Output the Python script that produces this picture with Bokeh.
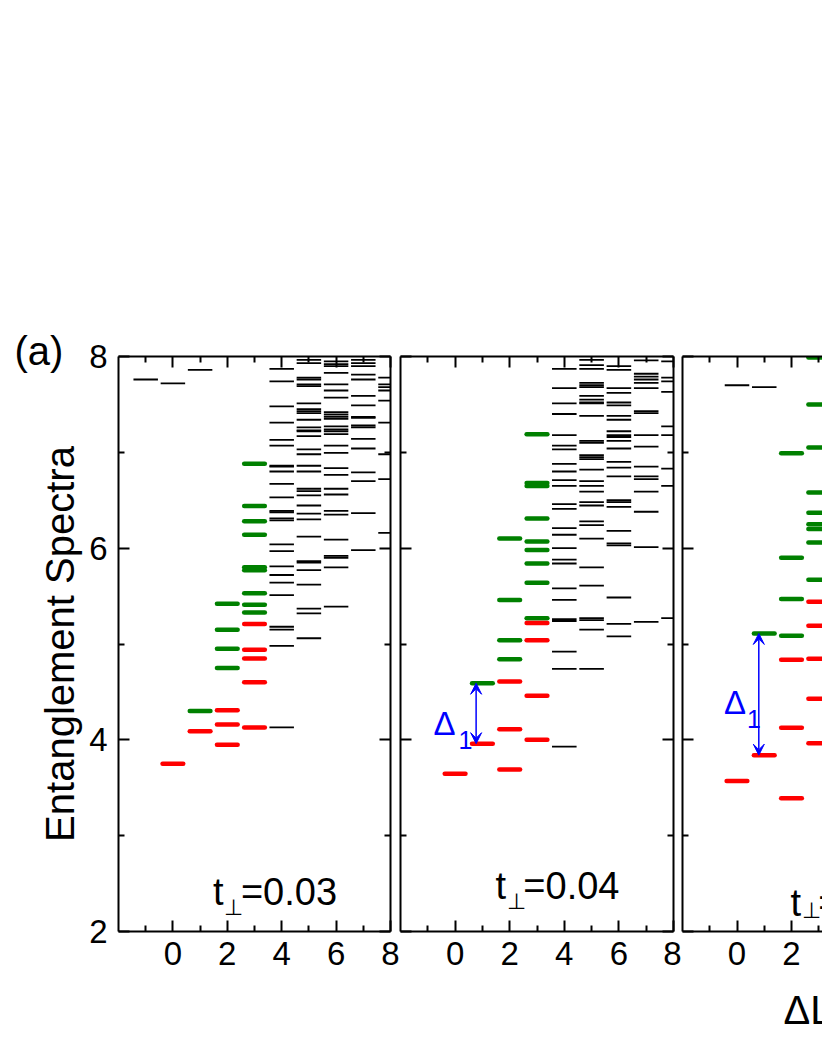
import math
from bokeh.plotting import figure
from bokeh.layouts import row
from bokeh.models import (LinearAxis, FixedTicker, Range1d, Label, Arrow,
                          VeeHead, ColumnDataSource, Title)
from bokeh.embed import file_html
from bokeh.resources import INLINE

FONT = "Liberation Sans"

# ---------------- data: panel 1 (t_perp = 0.03) ----------------
p1_red_dl = [0, 1, 2, 2, 2, 3, 3, 3, 3, 3]
p1_red_es = [3.75, 4.09, 3.95, 4.16, 4.31, 4.13, 4.60, 4.85, 4.94, 5.21]
p1_green_dl = [1, 2, 2, 2, 2, 3, 3, 3, 3, 3, 3, 3, 3, 3]
p1_green_es = [4.30, 4.75, 4.95, 5.15, 5.42, 5.33, 5.41, 5.53, 5.77, 5.80,
               6.14, 6.28, 6.44, 6.88]
p1_black_m1 = [7.76]
p1_black_0 = [7.72]
p1_black_1 = [7.86]
p1_black_4 = [4.13, 4.98, 5.15, 5.18, 5.51, 5.64, 5.72, 5.81, 5.97, 6.04,
              6.29, 6.31, 6.375, 6.39, 6.53, 6.67, 6.80, 6.85, 6.86, 7.07,
              7.13, 7.31, 7.48, 7.74, 7.87]
p1_black_5 = [5.06, 5.32, 5.37, 5.62, 5.77, 5.85, 5.865, 6.12, 6.30, 6.36,
              6.445, 6.55, 6.595, 6.62, 6.80, 6.86, 6.98, 7.03, 7.17, 7.22,
              7.23, 7.26, 7.34, 7.41, 7.43, 7.45, 7.51, 7.69, 7.71, 7.76,
              7.78, 7.93, 7.965]
p1_black_6 = [5.39, 5.80, 5.90, 5.92, 6.09, 6.35, 6.39, 6.56, 6.62, 6.765,
              6.835, 6.995, 7.07, 7.19, 7.22, 7.24, 7.27, 7.35, 7.37, 7.395,
              7.42, 7.57, 7.645, 7.71, 7.83, 7.90, 7.92, 7.95]
p1_black_7 = [5.98, 6.365, 6.70, 6.79, 7.04, 7.14, 7.26, 7.28, 7.36, 7.37,
              7.49, 7.59, 7.76, 7.81, 7.90, 7.93, 7.965]
p1_black_8 = [6.16, 6.72, 6.98, 7.31, 7.54, 7.645, 7.68, 7.71, 7.78]

# ---------------- data: panel 2 (t_perp = 0.04) ----------------
p2_red_dl = [0, 1, 2, 2, 2, 3, 3, 3, 3]
p2_red_es = [3.645, 3.96, 3.69, 4.11, 4.61, 4.00, 4.46, 5.04, 5.22]
p2_green_dl = [1, 2, 2, 2, 2, 3, 3, 3, 3, 3, 3, 3, 3, 3]
p2_green_es = [4.59, 4.84, 5.04, 5.46, 6.10, 5.27, 5.64, 5.84, 5.98, 6.07,
               6.31, 6.65, 6.68, 7.19]
p2_black_4 = [3.93, 4.74, 4.92, 5.24, 5.26, 5.46, 5.58, 5.84, 5.88, 6.00,
              6.14, 6.21, 6.41, 6.46, 6.65, 6.71, 6.80, 6.88, 7.03, 7.07,
              7.18, 7.40, 7.51, 7.67, 7.87]
p2_black_5 = [4.74, 5.15, 5.25, 5.27, 5.61, 5.80, 6.10, 6.24, 6.28, 6.445,
              6.48, 6.59, 6.65, 6.70, 6.82, 6.93, 6.95, 6.97, 7.10, 7.12,
              7.38, 7.51, 7.52, 7.55, 7.59, 7.68, 7.70, 7.725, 7.87, 7.91,
              7.965]
p2_black_6 = [5.08, 5.21, 5.485, 6.03, 6.05, 6.18, 6.43, 6.48, 6.50, 6.75,
              6.84, 6.90, 7.04, 7.12, 7.16, 7.18, 7.22, 7.34, 7.38, 7.49,
              7.52, 7.62, 7.67, 7.86, 7.90]
p2_black_7 = [5.23, 6.01, 6.38, 6.59, 6.72, 6.75, 6.85, 7.06, 7.18, 7.41,
              7.43, 7.67, 7.725, 7.76, 7.79, 7.82, 7.96]
p2_black_8 = [5.27, 6.65, 6.83, 7.18, 7.27, 7.63, 7.74, 7.78, 7.95]

# ---------------- data: panel 3 (partly visible) ----------------
p3_red_dl = [0, 1, 2, 2, 2, 3, 3, 3, 3, 3]
p3_red_es = [3.57, 3.84, 3.39, 4.125, 4.835, 3.965, 4.43, 4.845, 5.19, 5.44]
p3_green_dl = [1, 2, 2, 2, 2, 3, 3, 3, 3, 3, 3, 3, 3, 3]
p3_green_es = [5.11, 5.085, 5.47, 5.90, 6.99, 5.67, 6.06, 6.20, 6.25, 6.37,
               6.58, 7.05, 7.50, 7.99]
p3_black_0 = [7.70]
p3_black_1 = [7.68]

# gaps Delta_1 (lower red level, upper green level at dL = 1)
gap_p2 = (3.96, 4.59)
gap_p3 = (3.84, 5.11)

x_major = [0, 2, 4, 6, 8]
x_minor = [-1, 1, 3, 5, 7]
y_major = [2, 4, 6, 8]
y_minor = [3, 5, 7]

Y_TITLE = "Entanglement Spectra"
X_TITLE = "\u0394L"
TAG = "(a)"

RED = "#ff0000"
GREEN = "#008000"
BLUE = "#0000ff"
TICK_FONT = "33px"

FRAME_H = 575
TOP = 356
BOTTOM = 119


def style_axis(ax, labels):
    ax.axis_line_width = 2
    ax.axis_line_color = "black"
    ax.major_tick_in = 11
    ax.major_tick_out = 0
    ax.minor_tick_in = 6
    ax.minor_tick_out = 0
    ax.major_tick_line_width = 2
    ax.minor_tick_line_width = 2
    ax.major_tick_line_color = "black"
    ax.minor_tick_line_color = "black"
    if labels:
        ax.major_label_text_font = FONT
        ax.major_label_text_color = "black"
        ax.major_label_text_font_size = TICK_FONT
    else:
        ax.major_label_text_font_size = "0px"
        ax.major_label_standoff = 0
        ax.major_label_text_color = None


def make_panel(frame_w, x_end, mb_left, mb_right, ylabels, right_axis=True,
               xlabel=None):
    p = figure(frame_width=frame_w, frame_height=FRAME_H,
               x_range=Range1d(-2, x_end), y_range=Range1d(2, 8),
               min_border_left=mb_left, min_border_right=mb_right,
               min_border_top=TOP, min_border_bottom=BOTTOM,
               x_axis_location=None, y_axis_location=None,
               output_backend="svg", toolbar_location=None)
    p.grid.visible = False
    p.outline_line_color = None
    p.background_fill_color = "white"
    p.border_fill_color = "white"

    xt = FixedTicker(ticks=x_major, minor_ticks=x_minor)
    yt = FixedTicker(ticks=y_major, minor_ticks=y_minor)

    bottom = LinearAxis(ticker=xt)
    style_axis(bottom, True)
    bottom.major_label_standoff = 10
    if xlabel:
        bottom.axis_label = xlabel
        bottom.axis_label_text_font = FONT
        bottom.axis_label_text_font_size = "40px"
        bottom.axis_label_text_font_style = "normal"
        bottom.axis_label_text_color = "black"
        bottom.axis_label_standoff = 20
    p.add_layout(bottom, "below")

    top = LinearAxis(ticker=xt)
    style_axis(top, False)
    p.add_layout(top, "above")

    left = LinearAxis(ticker=yt)
    style_axis(left, ylabels)
    if ylabels:
        left.major_label_standoff = 11
    p.add_layout(left, "left")

    if right_axis:
        right = LinearAxis(ticker=yt)
        style_axis(right, False)
        p.add_layout(right, "right")
    return p


def add_bars(p, dl, es, color, width, half, cap):
    src = ColumnDataSource(dict(x0=[d - half for d in dl],
                                x1=[d + half for d in dl], y=list(es)))
    p.segment(x0="x0", y0="y", x1="x1", y1="y", source=src,
              line_color=color, line_width=width, line_cap=cap)


def add_black(p, groups):
    dl, es = [], []
    for d, vals in groups:
        dl += [d] * len(vals)
        es += vals
    add_bars(p, dl, es, "black", 1.8, 0.45, "butt")


def add_tlabel(p, x_t, x_perp, x_eq, y_base, y_perp, txt):
    p.add_layout(Label(x=x_t, y=y_base, text="t", text_font=FONT,
                       text_font_size="38px", text_color="black",
                       text_baseline="alphabetic", text_align="left"))
    p.add_layout(Label(x=x_perp, y=y_perp, text="\u22a5", text_font=FONT,
                       text_font_size="22px", text_color="black",
                       text_baseline="alphabetic", text_align="left"))
    p.add_layout(Label(x=x_eq, y=y_base, text=txt, text_font=FONT,
                       text_font_size="38px", text_color="black",
                       text_baseline="alphabetic", text_align="left"))


def add_gap(p, x_arrow, gap, x_d, y_d, x_1, y_1):
    p.add_layout(Arrow(x_start=x_arrow, y_start=gap[0], x_end=x_arrow, y_end=gap[1],
                       line_color=BLUE, line_width=1.5,
                       start=VeeHead(size=11, fill_color=BLUE, line_color=BLUE),
                       end=VeeHead(size=11, fill_color=BLUE, line_color=BLUE)))
    p.add_layout(Label(x=x_d, y=y_d, text="\u0394", text_font=FONT,
                       text_font_size="33px", text_color=BLUE,
                       text_baseline="alphabetic"))
    p.add_layout(Label(x=x_1, y=y_1, text="1", text_font=FONT,
                       text_font_size="25px", text_color=BLUE,
                       text_baseline="alphabetic"))


# ---------------- left strip: panel tag and y title ----------------
p0 = figure(frame_width=84, frame_height=FRAME_H,
            x_range=Range1d(0, 84), y_range=Range1d(2, 8),
            min_border_left=0, min_border_right=0,
            min_border_top=TOP, min_border_bottom=BOTTOM,
            x_axis_location=None, y_axis_location=None,
            output_backend="svg", toolbar_location=None)
p0.grid.visible = False
p0.outline_line_color = None
p0.border_fill_color = "white"
tag = Title(text=TAG, align="left", vertical_align="bottom", offset=14,
            text_font=FONT, text_font_size="40px", text_font_style="normal",
            text_color="black")
try:
    tag.standoff = -32
except Exception:
    tag.standoff = 0
p0.add_layout(tag, "above")
p0.add_layout(Label(x=59, y=5.0, text=Y_TITLE, angle=math.pi / 2,
                    text_font=FONT, text_font_size="40px", text_color="black",
                    text_baseline="middle", text_align="center"))

# ---------------- panel 1 ----------------
p1 = make_panel(272, 8, 34, 9, True)
add_black(p1, [(-1, p1_black_m1), (0, p1_black_0), (1, p1_black_1),
               (4, p1_black_4), (5, p1_black_5), (6, p1_black_6),
               (7, p1_black_7), (8, p1_black_8)])
add_bars(p1, p1_green_dl, p1_green_es, GREEN, 4.5, 0.38, "round")
add_bars(p1, p1_red_dl, p1_red_es, RED, 4.5, 0.38, "round")
add_tlabel(p1, 1.47, 1.88, 2.5, 2.41, 2.25, "=0.03")

# ---------------- panel 2 ----------------
p2 = make_panel(273, 8, 1, 8, False)
add_black(p2, [(4, p2_black_4), (5, p2_black_5), (6, p2_black_6),
               (7, p2_black_7), (8, p2_black_8)])
add_bars(p2, p2_green_dl, p2_green_es, GREEN, 4.5, 0.38, "round")
add_bars(p2, p2_red_dl, p2_red_es, RED, 4.5, 0.38, "round")
add_tlabel(p2, 1.48, 1.89, 2.5, 2.48, 2.31, "=0.04")
add_gap(p2, 0.77, gap_p2, -0.79, 4.17, 0.12, 4.0)

# ---------------- panel 3 (cut by the page edge) ----------------
NB = "\u00a0"
p3 = make_panel(140, -2 + 140 / 27.25, 1, 0, False, right_axis=False,
                xlabel=NB * 10 + X_TITLE)
add_black(p3, [(0, p3_black_0), (1, p3_black_1)])
add_bars(p3, p3_green_dl, p3_green_es, GREEN, 4.5, 0.38, "round")
add_bars(p3, p3_red_dl, p3_red_es, RED, 4.5, 0.38, "round")
add_tlabel(p3, 1.96, 2.37, 2.98, 2.30, 2.22, "=0.05")
add_gap(p3, 0.80, gap_p3, -0.48, 4.39, 0.37, 4.22)

layout = row(p0, p1, p2, p3)
open("out.html", "w").write(file_html(layout, INLINE))
